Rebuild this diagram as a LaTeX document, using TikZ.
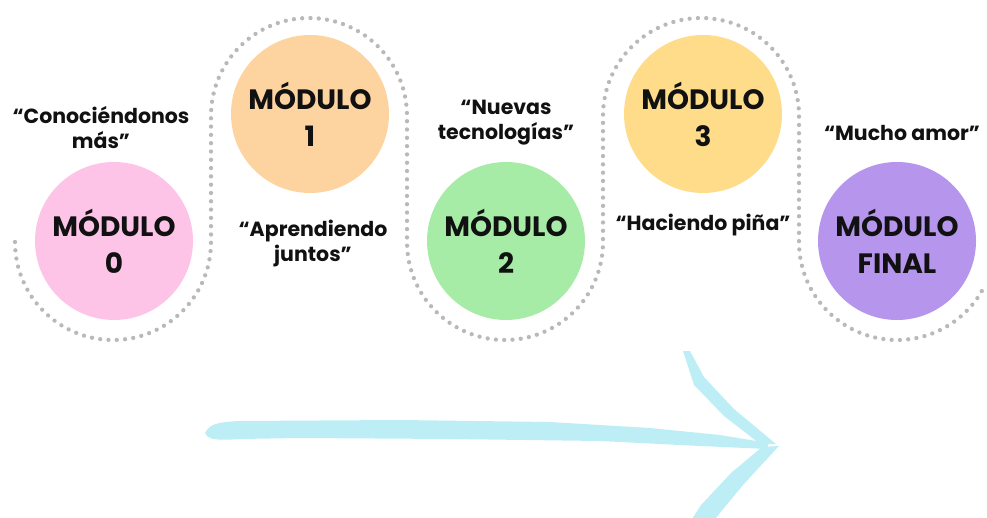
\documentclass[tikz,border=0pt]{standalone}
\usepackage{fontspec}
\setmainfont{Poppins}
\definecolor{cpink}{RGB}{253,196,232}
\definecolor{cpeach}{RGB}{253,211,160}
\definecolor{cgreen}{RGB}{166,236,166}
\definecolor{cyellow}{RGB}{254,220,138}
\definecolor{cpurple}{RGB}{182,149,237}
\definecolor{carrow}{RGB}{190,238,245}
\definecolor{cdots}{RGB}{185,185,185}
\definecolor{ctext}{RGB}{17,17,17}
\begin{document}
\begin{tikzpicture}[x=1pt,y=1pt,
  modnode/.style={circle,minimum size=158pt,inner sep=0pt,align=center,text=ctext,
    font=\fontsize{28}{37}\selectfont\bfseries},
  lab/.style={align=center,text=ctext,inner sep=0pt,font=\fontsize{20.5}{25}\selectfont\bfseries},
  dotline/.style={draw=cdots,line width=4.3pt,line cap=round,dash pattern=on 0pt off 8.3pt}]
\useasboundingbox (0,0) rectangle (987,517);
% dotted serpentine
\draw[dotline] (15,275) arc[start angle=180,end angle=360,radius=98]
  -- (211,401) arc[start angle=180,end angle=0,radius=98]
  -- (407,275) arc[start angle=180,end angle=360,radius=98]
  -- (603,401) arc[start angle=180,end angle=0,radius=98]
  -- (799,275) arc[start angle=180,end angle=331,radius=98];
% modules
\node[modnode,fill=cpink] (m0) at (114,276) {MÓDULO\\0};
\node[modnode,fill=cpeach] (m1) at (310,403) {MÓDULO\\1};
\node[modnode,fill=cgreen] (m2) at (506,276) {MÓDULO\\2};
\node[modnode,fill=cyellow] (m3) at (703,403) {MÓDULO\\3};
\node[modnode,fill=cpurple] (m4) at (897,276) {MÓDULO\\FINAL};
% labels
\node[lab] (l0) at (101,389) {“Conociéndonos\\más”};
\node[lab] (l1) at (313,273) {“Aprendiendo\\juntos”};
\node[lab] (l2) at (506,394) {“Nuevas\\tecnologías”};
\node[lab] (l3) at (703,292) {“Haciendo piña”};
\node[lab] (l4) at (902,384) {“Mucho amor”};
% brush arrow
\fill[carrow] (205,84) .. controls (209,92) and (215,95) .. (240,96)
  -- (400,97) -- (550,95) -- (650,89) -- (720,82) -- (768,74)
  -- (768,68) -- (700,71) -- (600,76) -- (450,78) -- (300,79) -- (240,78)
  .. controls (215,76) and (207,78) .. (205,84) -- cycle;
\fill[carrow] (683,166) -- (690,166) -- (704,140) -- (734,108) -- (776,73)
  -- (760,73) -- (724,101) -- (694,132) -- cycle;
\fill[carrow] (779,71) -- (743,32) -- (715,-2) -- (692,-2) -- (701,12)
  -- (731,44) -- (762,70) -- cycle;
\end{tikzpicture}
\end{document}
